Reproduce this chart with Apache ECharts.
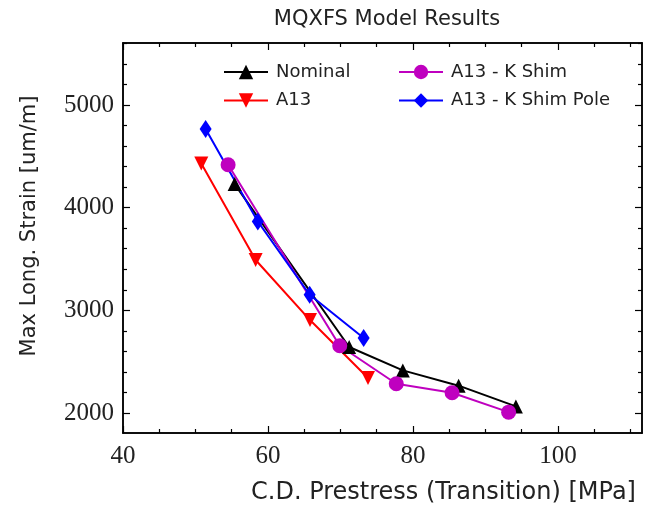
<!DOCTYPE html>
<html>
<head>
<meta charset="utf-8">
<title>MQXFS Model Results</title>
<script src="https://cdn.jsdelivr.net/npm/echarts@6/dist/echarts.min.js"></script>
<style>
  html, body { margin: 0; padding: 0; background: #fff; }
  #chart { width: 645px; height: 508px; }
</style>
</head>
<body>
<div id="chart"></div>
<script>
// values: [prestress MPa, strain um/m]
const nominal = [[55.4, 4230], [71.2, 2643], [78.6, 2415], [86.3, 2266], [94.2, 2064]]
const a13 = [[50.8, 4430], [58.3, 3490], [65.8, 2905], [73.8, 2340]]
const a13KShim = [[54.5, 4418], [69.9, 2655], [77.7, 2285], [85.4, 2197], [93.2, 2008]]
const a13KShimPole = [[51.4, 4766], [58.6, 3866], [65.75, 3152], [73.2, 2730]]

// tick labels
const xMajor = [40, 60, 80, 100]
const xMinor = [45, 50, 55, 65, 70, 75, 85, 90, 95, 105, 110]
const yMajor = [2000, 3000, 4000, 5000]
const yMinor = [1800, 2200, 2400, 2600, 2800, 3200, 3400, 3600, 3800, 4200, 4400, 4600, 4800, 5200, 5400, 5600]

const xMin = 40
const xMax = 111.6
const yMin = 1805
const yMax = 5604

const serif = '"Liberation Serif", "Times New Roman", serif'
const sans = '"DejaVu Sans", sans-serif'

function axisDef (pos, min, max, ticks, len, labels, margin) {
  return {
    type: 'value',
    position: pos,
    min: min,
    max: max,
    splitLine: { show: false },
    axisLine: { show: true, onZero: false, lineStyle: { color: '#000', width: 1.5 } },
    axisTick: { show: true, inside: true, length: len, customValues: ticks, lineStyle: { color: '#000', width: 1.2 } },
    axisLabel: labels ? {
      show: true,
      customValues: ticks,
      margin: margin,
      fontFamily: serif,
      fontSize: 25,
      color: '#222',
      formatter: (v) => String(v)
    } : { show: false }
  }
}

const xAxes = [
  axisDef('bottom', xMin, xMax, xMajor, 7, true, 11),
  axisDef('bottom', xMin, xMax, xMinor, 4, false),
  axisDef('top', xMin, xMax, xMajor, 7, false),
  axisDef('top', xMin, xMax, xMinor, 4, false)
]
xAxes[0].name = 'C.D. Prestress (Transition) [MPa]'
xAxes[0].nameLocation = 'middle'
xAxes[0].nameGap = 48
xAxes[0].nameTextStyle = {
  fontFamily: sans,
  fontSize: 24,
  color: '#222',
  padding: [0, 0, 0, 122]
}

const yAxes = [
  axisDef('left', yMin, yMax, yMajor, 7, true, 9),
  axisDef('left', yMin, yMax, yMinor, 4, false),
  axisDef('right', yMin, yMax, yMajor, 7, false),
  axisDef('right', yMin, yMax, yMinor, 4, false)
]
yAxes[0].name = 'Max Long. Strain [um/m]'
yAxes[0].nameLocation = 'middle'
yAxes[0].nameGap = 83
yAxes[0].nameTextStyle = { fontFamily: sans, fontSize: 21, color: '#222', padding: [0, 0, 0, 24] }

function lineSeries (name, data, color, symbol, size, rotate) {
  return {
    name: name,
    type: 'line',
    xAxisIndex: 0,
    yAxisIndex: 0,
    data: data,
    color: color,
    symbol: symbol,
    symbolSize: size,
    symbolRotate: rotate || 0,
    showAllSymbol: true,
    animation: false,
    lineStyle: { width: 2, color: color },
    itemStyle: { color: color }
  }
}

const legendText = { fontFamily: sans, fontSize: 18, color: '#222', lineHeight: 18, padding: [0, 0, 0, 3] }

const option = {
  backgroundColor: '#fff',
  animation: false,
  title: {
    text: 'MQXFS Model Results',
    left: 382,
    textAlign: 'center',
    top: 4,
    textStyle: { fontFamily: sans, fontSize: 21, fontWeight: 'normal', color: '#222' }
  },
  grid: { left: 123, right: 3, top: 43, bottom: 75, outerBoundsMode: 'none', containLabel: false },
  legend: [{
    orient: 'vertical',
    left: 218,
    top: 58,
    itemWidth: 44,
    itemHeight: 18,
    itemGap: 10.5,
    lineStyle: { width: 2 },
    textStyle: legendText,
    data: ['Nominal', 'A13']
  }, {
    orient: 'vertical',
    left: 393,
    top: 58,
    itemWidth: 44,
    itemHeight: 18,
    itemGap: 10.5,
    lineStyle: { width: 2 },
    textStyle: legendText,
    data: ['A13 - K Shim', 'A13 - K Shim Pole']
  }],
  xAxis: xAxes,
  yAxis: yAxes,
  series: [
    lineSeries('Nominal', nominal, '#000000', 'triangle', 14),
    lineSeries('A13', a13, '#ff0000', 'triangle', 14, 180),
    lineSeries('A13 - K Shim', a13KShim, '#bf00bf', 'circle', 15),
    lineSeries('A13 - K Shim Pole', a13KShimPole, '#0000ff', 'diamond', [12, 18])
  ]
}

const chart = echarts.init(document.getElementById('chart'), null, { renderer: 'canvas' })
chart.setOption(option)
window.addEventListener('resize', () => chart.resize())
</script>
</body>
</html>
